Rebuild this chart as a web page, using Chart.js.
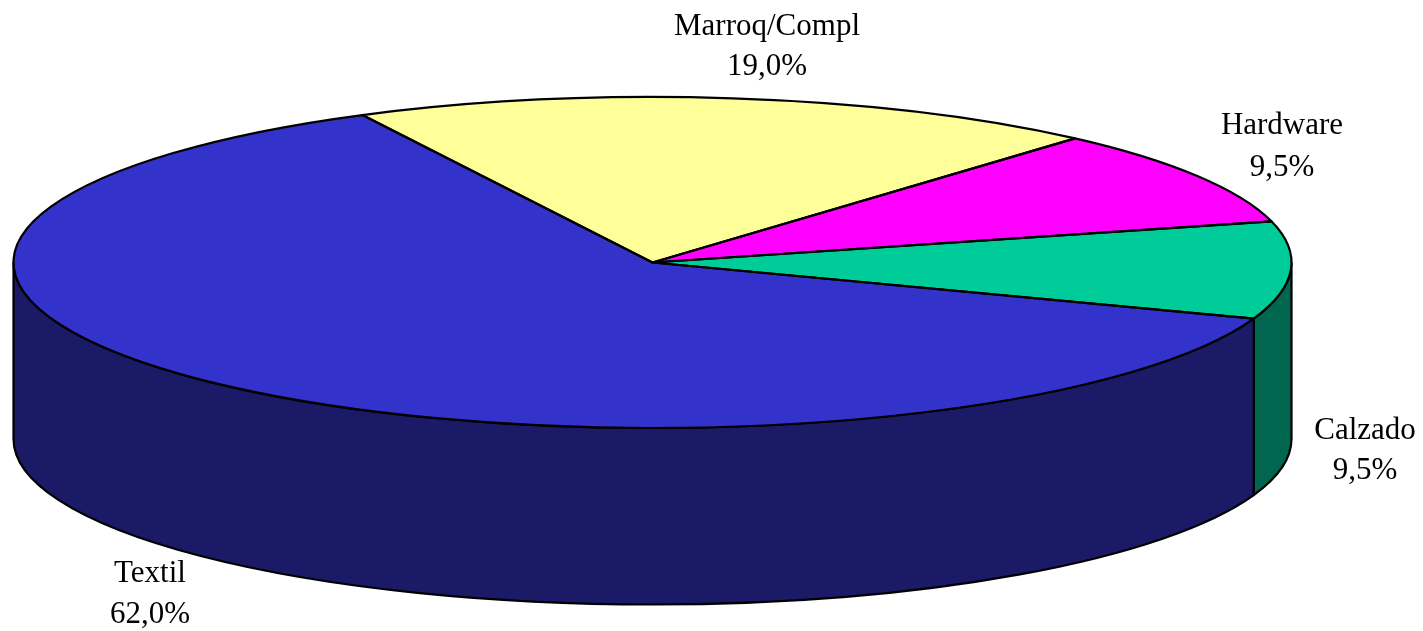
<!DOCTYPE html>
<html><head><meta charset="utf-8">
<style>html,body{margin:0;padding:0;background:#fff;overflow:hidden}#wrap{width:1423px;height:631px;position:relative}</style>
<script src="https://cdn.jsdelivr.net/npm/chart.js@4"></script>
</head><body><div id="wrap"><canvas id="c"></canvas></div>
<script>
const categories = ['Marroq/Compl', 'Hardware', 'Calzado', 'Textil'];
const values = [19.0, 9.5, 9.5, 62.0];
const valueLabels = ['19,0%', '9,5%', '9,5%', '62,0%'];
const topColors = ['#FFFF99', '#FF00FF', '#00CC99', '#3333CC'];
const wallColors = ['#808050', '#800080', '#006650', '#1A1A66'];
const labelCenters = [[767, 27, 67], [1282, 126, 168], [1365, 431, 471], [150, 574, 615]];

const RX = 639, RY = 165.5, DEPTH = 176.5, LW = 2.2;
const pie3d = {
  id: 'pie3d',
  beforeDatasetsDraw(chart) {
    const ctx = chart.ctx, arcs = chart.getDatasetMeta(0).data;
    const a0 = arcs[0], R = a0.outerRadius, cx = a0.x, cy = a0.y;
    const place = () => { ctx.translate(cx, cy); ctx.scale(RX / R, RY / R); };
    chart.$place = place;
    const d = DEPTH * R / RY;
    ctx.save();
    arcs.forEach((el, i) => {
      for (const k of [-1, 0, 1]) {
        const s = Math.max(el.startAngle + k * 2 * Math.PI, 0);
        const e = Math.min(el.endAngle + k * 2 * Math.PI, Math.PI);
        if (e <= s) continue;
        ctx.save();
        place();
        ctx.beginPath();
        ctx.arc(0, 0, R, s, e);
        ctx.arc(0, d, R, e, s, true);
        ctx.closePath();
        ctx.restore();
        ctx.fillStyle = wallColors[i];
        ctx.fill();
        ctx.strokeStyle = '#000';
        ctx.lineWidth = LW;
        ctx.lineJoin = 'round';
        ctx.stroke();
      }
    });
    ctx.restore();
    ctx.save();
    place();
    ctx.translate(-cx, -cy);
  },
  afterDatasetsDraw(chart) {
    const ctx = chart.ctx, arcs = chart.getDatasetMeta(0).data;
    ctx.restore();
    const R = arcs[0].outerRadius;
    ctx.save();
    ctx.strokeStyle = '#000';
    ctx.lineWidth = LW;
    ctx.lineJoin = 'round';
    arcs.forEach(el => {
      ctx.save();
      chart.$place();
      ctx.beginPath();
      ctx.moveTo(0, 0);
      ctx.arc(0, 0, R, el.startAngle, el.endAngle);
      ctx.closePath();
      ctx.restore();
      ctx.stroke();
    });
    ctx.fillStyle = '#000';
    ctx.font = '31px "Liberation Serif"';
    ctx.textAlign = 'center';
    ctx.textBaseline = 'middle';
    categories.forEach((name, i) => {
      const [x, y1, y2] = labelCenters[i];
      ctx.fillText(name, x, y1);
      ctx.fillText(valueLabels[i], x, y2);
    });
    ctx.restore();
  }
};

new Chart(document.getElementById('c'), {
  type: 'pie',
  data: {
    labels: categories,
    datasets: [{ data: values, backgroundColor: topColors, borderWidth: 0, hoverOffset: 0, clip: false }]
  },
  options: {
    responsive: true,
    maintainAspectRatio: false,
    animation: false,
    rotation: -27,
    layout: { padding: { left: 0, top: 0, right: 118, bottom: 106 } },
    plugins: { legend: { display: false }, tooltip: { enabled: false } }
  },
  plugins: [pie3d]
});
</script>
</body></html>
